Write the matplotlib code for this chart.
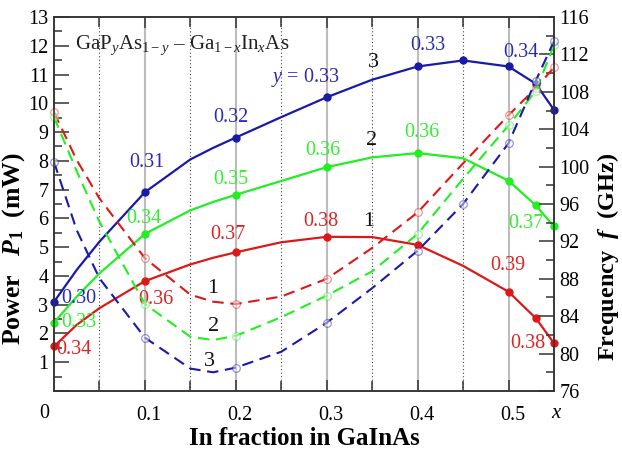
import numpy as np
import matplotlib
matplotlib.use("Agg")
import matplotlib.pyplot as plt
from matplotlib.transforms import ScaledTranslation

plt.rcParams['font.family'] = ['Liberation Serif', 'DejaVu Serif']
plt.rcParams['mathtext.fontset'] = 'custom'
plt.rcParams['mathtext.rm'] = 'Liberation Serif'
plt.rcParams['mathtext.it'] = 'Liberation Serif:italic'
plt.rcParams['mathtext.bf'] = 'Liberation Serif:bold'
plt.rcParams['mathtext.bfit'] = 'Liberation Serif:bold:italic'

# ===== data =====
x = [0, 0.025, 0.05, 0.1, 0.15, 0.175, 0.2, 0.25, 0.3, 0.35, 0.4, 0.45, 0.5, 0.53, 0.55]

# power P1 (mW), left axis
power_1 = [1.55, 2.30, 2.88, 3.82, 4.40, 4.63, 4.82, 5.17, 5.36, 5.35, 5.08, 4.35, 3.45, 2.53, 1.66]
power_2 = [2.38, 3.28, 4.09, 5.46, 6.28, 6.57, 6.82, 7.30, 7.78, 8.12, 8.27, 8.09, 7.31, 6.45, 5.72]
power_3 = [3.10, 4.21, 5.19, 6.91, 8.05, 8.45, 8.81, 9.52, 10.21, 10.82, 11.28, 11.49, 11.28, 10.68, 9.77]

# frequency f (GHz), right axis
freq_1 = [105.8, 100.7, 96.6, 90.2, 86.3, 85.55, 85.3, 86.1, 88.0, 91.3, 95.1, 100.35, 105.5, 108.4, 110.6]
freq_2 = [105.3, 99.5, 94.1, 85.3, 81.8, 81.45, 81.9, 83.9, 86.2, 88.8, 92.8, 98.7, 104.4, 108.1, 113.0]
freq_3 = [100.5, 93.2, 88.05, 81.7, 78.4, 78.0, 78.5, 80.2, 83.3, 87.0, 91.0, 96.0, 102.5, 109.2, 113.4]

# points with markers
marks_12 = [0, 0.1, 0.2, 0.3, 0.4, 0.5, 0.53, 0.55]
marks_3 = [0, 0.1, 0.2, 0.3, 0.4, 0.45, 0.5, 0.53, 0.55]

# y composition labels
y_1 = ['0.34', '0.36', '0.37', '0.38', '0.39', '0.38']
y_2 = ['0.33', '0.34', '0.35', '0.36', '0.36', '0.37']
y_3 = ['0.30', '0.31', '0.32', '$\\mathit{y}$ = 0.33', '0.33', '0.34']

x_ticks = [0.1, 0.2, 0.3, 0.4, 0.5]
x_ticklabels = ['0.1', '0.2', '0.3', '0.4', '0.5']

red = '#dd1818'
green = '#22ee22'
blue = '#1a1aa8'

fig = plt.figure(figsize=(6.22, 4.55), dpi=100)
ax = fig.add_axes([54 / 622, 64 / 455, 500 / 622, 374 / 455])
ax2 = ax.twinx()

ax.set_xlim(0, 0.55)
ax.set_ylim(0, 13)
ax2.set_ylim(76, 116)

# vertical grid
for xv in x_ticks:
    ax.axvline(xv, color='#bcbcbc', lw=1.5, zorder=0)
for xv in [0.05, 0.15, 0.25, 0.35, 0.45]:
    ax.axvline(xv, color='#444444', lw=0.8, ls=(0, (1, 2.2)), zorder=0)

def idx(marks):
    return [x.index(m) for m in marks]

# solid: power
for p, c, m in [(power_1, red, marks_12), (power_2, green, marks_12), (power_3, blue, marks_3)]:
    ax.plot(x, p, color=c, lw=1.6, marker='o', markersize=5, markevery=idx(m), zorder=3, clip_on=False)

# dashed: frequency
for f, c, m in [(freq_1, red, marks_12), (freq_2, green, marks_12), (freq_3, blue, marks_3)]:
    ax2.plot(x, f, color=c, lw=1.5, dashes=(5.5, 3.2), zorder=2, clip_on=False)
    ax2.plot([x[i] for i in idx(m)], [f[i] for i in idx(m)], ls='none', marker='o',
             markersize=5.5, markerfacecolor='white', markeredgecolor=c, alpha=0.45,
             markeredgewidth=0.9, zorder=2, clip_on=False)

# composition labels
pos_1 = [(0.022, 1.43), (0.112, 3.19), (0.191, 5.43), (0.294, 5.89), (0.499, 4.36), (0.521, 1.66)]
pos_2 = [(0.027, 2.38), (0.099, 6.0), (0.195, 7.36), (0.296, 8.35), (0.405, 8.98), (0.519, 5.81)]
pos_3 = [(0.027, 3.2), (0.102, 7.93), (0.195, 9.49), (0.276, 10.91), (0.411, 12.0), (0.514, 11.78)]
for labels, pos, c in [(y_1, pos_1, '#dd2222'), (y_2, pos_2, '#33ee33'), (y_3, pos_3, '#2b2bb0')]:
    for t, (xp, yp) in zip(labels, pos):
        ax.text(xp, yp, t, color=c, fontsize=14.5, ha='center', va='center', zorder=5)

# curve numbers
for t, xp, yp in [('3', 0.351, 11.42), ('2', 0.349, 8.71), ('1', 0.346, 5.89),
                  ('1', 0.175, 3.57), ('2', 0.175, 2.24), ('3', 0.171, 1.02)]:
    ax.text(xp, yp, t, fontsize=16, ha='center', va='center', color='#111111', zorder=5)

ax.text(0.023, 12.03, 'GaP$_y$As$_{1-y}$ \u2013 Ga$_{1-x}$In$_x$As', fontsize=15,
        ha='left', va='center', color='#222222')

# ticks
ax.set_xticks(x_ticks)
ax.set_xticklabels(x_ticklabels)
ax.set_xticks(np.arange(0.05, 0.55, 0.1), minor=True)
ax.set_yticks(range(0, 14))
ax.set_yticklabels([''] + [str(i) for i in range(1, 14)])
ax.set_yticks(np.arange(0.5, 13, 1), minor=True)
ax2.set_yticks(range(76, 117, 4))
ax2.set_yticks(range(78, 116, 4), minor=True)

ax.tick_params(axis='both', which='both', direction='in', top=True, right=False,
               labelsize=14.5, color='#333333', width=1.1)
ax.tick_params(axis='x', which='major', length=8, pad=11)
ax.tick_params(axis='x', which='minor', length=7)
ax.tick_params(axis='y', which='major', length=11, pad=4)
ax.tick_params(axis='y', which='minor', length=6)
ax2.tick_params(axis='y', which='both', direction='in', labelsize=14.5, color='#333333', width=1.1, pad=4)
ax2.tick_params(axis='y', which='major', length=11)
ax2.tick_params(axis='y', which='minor', length=6)

for lbl in ax.get_xticklabels():
    lbl.set_transform(lbl.get_transform() + ScaledTranslation(4 / 100, 0, fig.dpi_scale_trans))

ax.annotate('0', xy=(0, 0), xycoords=('data', 'axes fraction'), xytext=(-10, -22),
            textcoords='offset pixels', ha='center', va='center', fontsize=14.5)
ax.annotate('$\\mathit{x}$', xy=(0.55, 0), xycoords=('data', 'axes fraction'), xytext=(3, -22),
            textcoords='offset pixels', ha='center', va='center', fontsize=15)

for a in (ax, ax2):
    for s in a.spines.values():
        s.set_linewidth(1.1)
        s.set_color('#333333')

ax.set_xlabel('In fraction in GaInAs', fontsize=18, fontweight='bold')
ax.xaxis.set_label_coords(0.5, -0.095)
ax.set_ylabel('Power   $\\mathbfit{P}_\\mathbf{1}$  (mW)', fontsize=18.5, fontweight='bold')
ax.yaxis.set_label_coords(-0.054, 0.38)
ax2.set_ylabel('Frequency  $\\mathbfit{f}$  (GHz)', fontsize=17.5, fontweight='bold')
ax2.yaxis.set_label_coords(1.082, 0.36)

fig.savefig('out.png', dpi=100)
